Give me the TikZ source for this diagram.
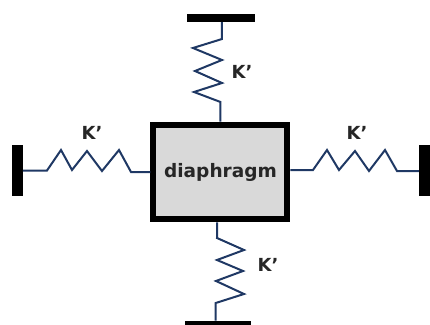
\documentclass[tikz,border=0pt]{standalone}
\usepackage{fontspec}
\setmainfont{DejaVu Sans}
\definecolor{springblue}{HTML}{1F3864}
\definecolor{boxgray}{HTML}{D9D9D9}
\tikzset{
  wall/.style={shape=rectangle,fill=black,inner sep=0pt,outer sep=0pt},
  spring/.style={draw=springblue,line width=1.5pt},
  stiff/.style={font=\bfseries\fontsize{13.5}{15}\selectfont,inner sep=0pt,text=black!85}
}
\begin{document}
\begin{tikzpicture}[x=0.75pt,y=-0.75pt]
\useasboundingbox (0,0) rectangle (430,325);
\node[shape=rectangle,draw=black,fill=boxgray,line width=4.5pt,minimum width=100.5pt,minimum height=71pt,inner sep=0pt,font=\bfseries\fontsize{13.9}{15}\selectfont,text=black!85] (box) at (220.5,172) {diaphragm};
\node[wall,minimum width=8.25pt,minimum height=38.25pt] (wallL) at (17.5,170.5) {};
\node[wall,minimum width=8.25pt,minimum height=38.25pt] (wallR) at (424.5,170.5) {};
\node[wall,minimum width=51pt,minimum height=6pt] (wallT) at (221,18) {};
\node[wall,minimum width=49.5pt,minimum height=3.4pt] (wallB) at (218,322.8) {};

\node[stiff] (kL) at (92,133) {K’};
\node[stiff] (kT) at (242,72) {K’};
\node[stiff] (kB) at (268,265) {K’};
\node[stiff] (kR) at (357,133) {K’};

\draw[spring] (wallL.east) -- (47,170.5) -- (61,150) -- (72,170) -- (87,151) -- (102,171) -- (119,150) -- (131,172) -- (box.west);
\draw[spring] ([yshift=1.5pt]box.east) -- (313,170) -- (327,150) -- (339,170) -- (355,151) -- (369,171) -- (385,150) -- (397,171) -- ([yshift=-0.4pt]wallR.west);
\draw[spring] ([xshift=0.75pt]wallT.south) -- (222,39) -- (193,48) -- (222,60) -- (195,71) -- (222,83) -- (194,92) -- (220.5,102) -- (box.north);
\draw[spring] ([xshift=-2.6pt]box.south) -- (217,238) -- (244,250) -- (217,260) -- (243,271) -- (216,281) -- (244,294) -- (215.75,303) -- ([xshift=-1.7pt]wallB.north);
\end{tikzpicture}
\end{document}
